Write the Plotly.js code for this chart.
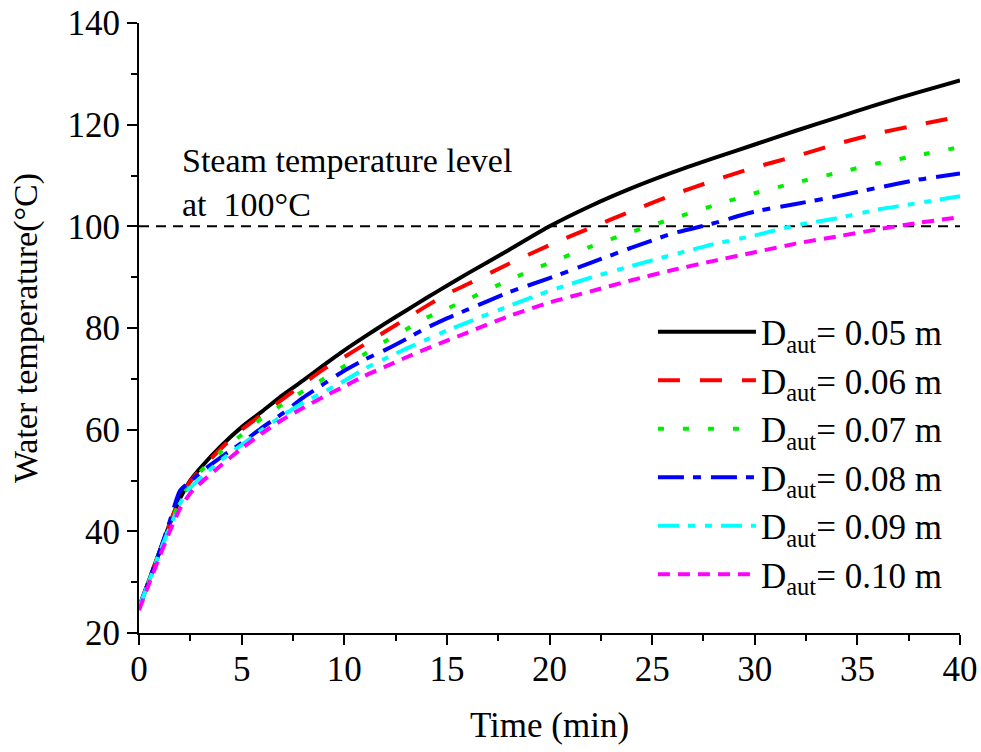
<!DOCTYPE html>
<html>
<head>
<meta charset="utf-8">
<script src="https://cdn.plot.ly/plotly-3.0.1.min.js"></script>
<style>
  html, body { margin: 0; padding: 0; background: #fff; }
  #chart { width: 981px; height: 752px; }
</style>
</head>
<body>
<div id="chart"></div>
<script>
// Time (min)
const time = [0, 0.5, 1, 1.5, 2, 2.5, 3, 4, 5, 6, 7, 8, 9, 10, 11, 12, 13, 14, 15, 16, 18, 20, 22, 24, 26, 28, 30, 32, 34, 36, 38, 40];

// Water temperature (°C) for each D_aut
const d005 = [25, 30.5, 36, 41.5, 46.5, 50, 52.5, 56.8, 60.5, 63.6, 66.8, 69.7, 72.7, 75.6, 78.3, 80.9, 83.4, 85.9, 88.3, 90.7, 95.3, 100, 104, 107.5, 110.6, 113.4, 116.1, 118.8, 121.4, 124, 126.4, 128.7];
const d006 = [25, 30.5, 36, 41.5, 46.5, 49.8, 52.2, 56.3, 60, 63, 66, 69, 71.9, 74.3, 76.8, 79.3, 81.8, 84.3, 86.7, 88.6, 92.6, 96.3, 99.7, 103, 106.2, 109, 111.6, 113.8, 116.2, 118.3, 120, 121.6];
const d007 = [25, 30.5, 36, 41, 46, 49.5, 51.8, 55.7, 59, 62.3, 65, 67.6, 70, 72.5, 74.9, 77.4, 79.7, 82, 83.8, 85.6, 89.4, 92.8, 96, 98.9, 101.5, 104.1, 106.5, 108.6, 110.5, 112.4, 114, 115.6];
const d008 = [25, 30.5, 36, 42, 48, 49.8, 51.6, 54.6, 57.4, 60.4, 63.2, 66.3, 69, 71.6, 73.8, 75.7, 77.8, 80, 81.9, 83.6, 87, 89.8, 92.8, 95.8, 98.6, 100.6, 102.9, 104.4, 105.9, 107.6, 109.2, 110.4];
const d009 = [25, 30.3, 35.8, 40.8, 45.5, 48.6, 50.5, 54, 57, 60, 62.8, 65.3, 67.4, 69.6, 72, 74, 75.9, 77.7, 79.5, 81.1, 84.3, 87.3, 89.9, 92.2, 94.4, 96.5, 98.2, 100.2, 101.6, 103.3, 104.6, 105.9];
const d010 = [24.5, 29.8, 35, 40, 44.5, 47.5, 49.5, 53, 56.3, 59.3, 62, 64.3, 66.5, 68.5, 70.6, 72.4, 74.2, 75.9, 77.5, 79.1, 82.3, 85, 87.2, 89.4, 91.4, 93.2, 94.9, 96.6, 98, 99.4, 100.7, 101.8];

const seriesNames = ["D<sub>aut</sub>= 0.05 m", "D<sub>aut</sub>= 0.06 m", "D<sub>aut</sub>= 0.07 m", "D<sub>aut</sub>= 0.08 m", "D<sub>aut</sub>= 0.09 m", "D<sub>aut</sub>= 0.10 m"];

// Steam temperature reference level
const steamX = [0, 40];
const steamY = [100, 100];

const FONT = "'Liberation Serif', 'Times New Roman', Times, serif";

const styles = [
  { color: "#000000", dash: "solid" },
  { color: "#ff0000", dash: "22px,20px" },
  { color: "#00ee00", dash: "6px,19px" },
  { color: "#0000ff", dash: "26px,9px,8px,10px" },
  { color: "#00ffff", dash: "21px,9px,7px,10px,7px,9px" },
  { color: "#ff00ff", dash: "12px,8px" }
];

const values = [d005, d006, d007, d008, d009, d010];

const traces = [{
  x: steamX, y: steamY, mode: "lines", showlegend: false, hoverinfo: "skip",
  line: { color: "#000", width: 2, dash: "10px,7px" }
}];

values.forEach((v, i) => {
  traces.push({
    x: time, y: v, name: seriesNames[i], mode: "lines",
    line: { color: styles[i].color, width: 4, dash: styles[i].dash, shape: "spline", smoothing: 0.6 }
  });
});

const layout = {
  width: 981, height: 752,
  paper_bgcolor: "#fff", plot_bgcolor: "#fff",
  margin: { l: 139, r: 21, t: 23, b: 118.5 },
  font: { family: FONT, size: 35, color: "#000" },
  showlegend: true,
  legend: {
    x: 0.626, y: 0.542, xanchor: "left", yanchor: "top",
    bgcolor: "rgba(0,0,0,0)", itemwidth: 98,
    font: { family: FONT, size: 35, color: "#000" },
    tracegroupgap: 0
  },
  xaxis: {
    range: [0, 40], dtick: 5, tick0: 0,
    showline: true, linecolor: "#000", linewidth: 2, mirror: false,
    ticks: "outside", ticklen: 10, tickwidth: 2, tickcolor: "#000",
    minor: { ticks: "outside", ticklen: 6, tickwidth: 2, tickcolor: "#000", dtick: 2.5 },
    showgrid: false, zeroline: false, ticklabelstandoff: -6,
    tickfont: { family: FONT, size: 35, color: "#000" },
    title: { text: "Time (min)", font: { family: FONT, size: 35, color: "#000" }, standoff: 24 }
  },
  yaxis: {
    range: [20, 140], dtick: 20, tick0: 20,
    showline: true, linecolor: "#000", linewidth: 2, mirror: false,
    ticks: "outside", ticklen: 10, tickwidth: 2, tickcolor: "#000",
    minor: { ticks: "outside", ticklen: 6, tickwidth: 2, tickcolor: "#000", dtick: 10 },
    showgrid: false, zeroline: false,
    tickfont: { family: FONT, size: 35, color: "#000" },
    title: { text: "Water temperature(°C)", font: { family: FONT, size: 34, color: "#000" }, standoff: 20 }
  },
  annotations: [{
    x: 2, y: 117, xref: "x", yref: "y", xanchor: "left", yanchor: "top",
    showarrow: false, align: "left",
    text: "Steam temperature level<br>at\u00a0 100°C",
    font: { family: FONT, size: 34, color: "#000" }
  }]
};

Plotly.newPlot("chart", traces, layout, { displayModeBar: false, staticPlot: true });
</script>
</body>
</html>
